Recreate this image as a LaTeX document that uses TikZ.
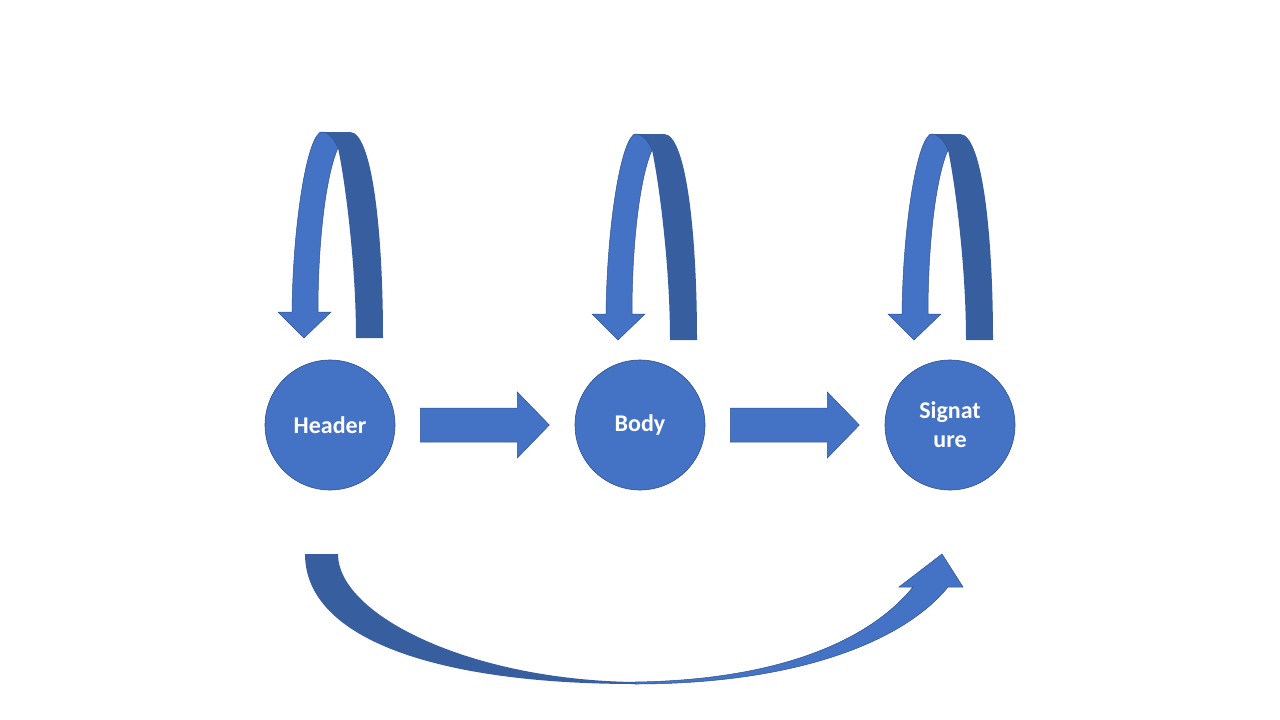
\documentclass[tikz,border=0pt]{standalone}
\usepackage{fontspec}
\newfontfamily\carlito{Carlito}
\usetikzlibrary{calc}
\definecolor{lb}{HTML}{4472C4}
\definecolor{db}{HTML}{375E9E}
\definecolor{ol}{HTML}{2F528F}
\tikzset{
  stagenode/.style={circle, fill=lb, draw=ol, line width=0.6pt, minimum size=130pt, inner sep=0pt,
    text=white, align=center, font=\carlito\bfseries\fontsize{24}{29}\selectfont},
  lightpart/.style={fill=lb, draw=ol, line width=0.5pt},
  darkpart/.style={fill=db},
  selfloop/.pic={
    \fill[darkpart] (26,-87) -- (53,-87) .. controls (53,-195) and (42,-293) .. (20,-293)
      -- (-12,-293) .. controls (-4,-291) and (4,-285) .. (8,-277)
      .. controls (14,-250) and (26,-165) .. (26,-87) -- cycle;
    \path[lightpart] (-38,-113) -- (-52,-113) -- (-26,-87) -- (1,-113) -- (-12,-113)
      .. controls (-12,-185) and (-4,-250) .. (8,-277)
      .. controls (4,-287) and (-2,-293) .. (-8,-293)
      .. controls (-22,-293) and (-37,-205) .. (-38,-113) -- cycle;
  }
}
\begin{document}
\begin{tikzpicture}[x=1pt,y=-1pt]
\useasboundingbox (0,0) rectangle (1280,720);
\node[stagenode] (h) at (330,425) {Header};
\node[stagenode] (b) at (640,425) {Body};
\node[stagenode] (s) at (950,425) {Signat\\ure};
% straight block arrows
\coordinate (a1) at ($(h.east)+(25,0)$);
\coordinate (a2) at ($(b.east)+(25,0)$);
\foreach \c in {a1,a2}{
  \path[lightpart] ($(\c)+(0,-17)$) -- ++(97,0) -- ++(0,-16) -- ++(32,33) -- ++(-32,33) -- ++(0,-16) -- ++(-97,0) -- cycle;
}
% self loops
\pic at (h.center) {selfloop};
\pic at ($(b.center)+(4,2)$) {selfloop};
\pic at ($(s.center)+(-10,2)$) {selfloop};
% bottom curved arrow
\coordinate (t1) at (305,554);
\coordinate (t2) at (338,554);
\fill[darkpart] (t1) .. controls (305,640) and (440,684) .. (635,684)
  -- (635,682) .. controls (470,680) and (338,615) .. (t2) -- cycle;
\path[lightpart] (635,684) .. controls (800,684) and (905,640) .. (948,587)
  -- (963,587) -- (942,554) -- (899,587) -- (913,587)
  .. controls (870,640) and (780,680) .. (635,682) -- cycle;
\end{tikzpicture}
\end{document}
